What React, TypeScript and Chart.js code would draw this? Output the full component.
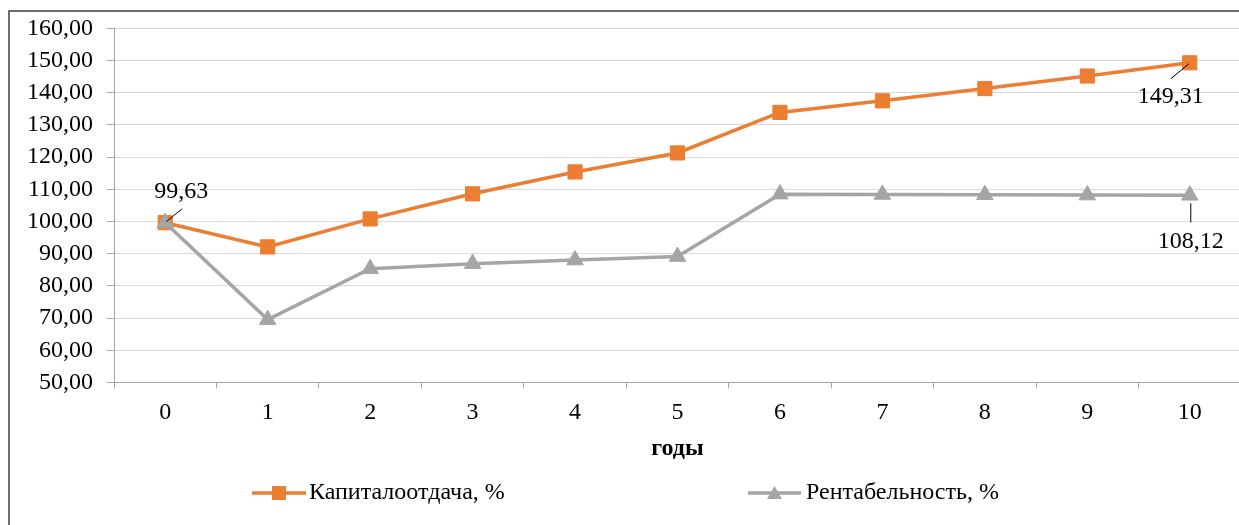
import React, { useEffect, useRef } from 'react';
import { Chart, registerables } from 'chart.js';

Chart.register(...registerables);

const categories: string[] = ['0', '1', '2', '3', '4', '5', '6', '7', '8', '9', '10'];
const capitalProductivity: number[] = [99.63, 92.1, 100.8, 108.6, 115.4, 121.3, 133.9, 137.5, 141.3, 145.2, 149.31];
const profitability: number[] = [99.63, 69.5, 85.3, 86.9, 88.0, 89.1, 108.5, 108.4, 108.3, 108.2, 108.12];
const seriesNames: string[] = ['Капиталоотдача, %', 'Рентабельность, %'];
const seriesColors: string[] = ['#ED7D31', '#A5A5A5'];
const axisTitle = 'годы';
const yMin = 50;
const yMax = 160;
const yStep = 10;

const FONT = "'Liberation Serif', 'Times New Roman', serif";
const FS = 24;
const fmt = (v: number) => v.toFixed(2).replace('.', ',');

// annotated points: dataset index, point index
const annotated = [
  { ds: 0, idx: 0, dx: 16, dy: -31, l: [17, -14, 1, -1] },
  { ds: 0, idx: 10, dx: -19, dy: 34, l: [-19, 16, -1, 1] },
  { ds: 1, idx: 10, dx: 1, dy: 46, l: [1, 8, 1, 27] },
];

const framePlugin = {
  id: 'frame',
  beforeDraw(chart: any) {
    const ctx = chart.ctx;
    ctx.save();
    ctx.fillStyle = '#ffffff';
    ctx.fillRect(0, 0, chart.width, chart.height);
    ctx.strokeStyle = '#404040';
    ctx.lineWidth = 1.5;
    ctx.beginPath();
    ctx.moveTo(9, chart.height + 10);
    ctx.lineTo(9, 11);
    ctx.lineTo(chart.width + 10, 11);
    ctx.stroke();
    ctx.restore();
  },
};

const labelPlugin = {
  id: 'pointLabels',
  afterDatasetsDraw(chart: any) {
    const ctx = chart.ctx;
    ctx.save();
    ctx.font = `${FS}px ${FONT}`;
    ctx.fillStyle = '#000';
    ctx.textAlign = 'center';
    ctx.textBaseline = 'middle';
    ctx.strokeStyle = '#000';
    ctx.lineWidth = 1;
    annotated.forEach((a) => {
      const el = chart.getDatasetMeta(a.ds).data[a.idx];
      const value = chart.data.datasets[a.ds].data[a.idx] as number;
      const x = el.x;
      const y = el.y;
      ctx.beginPath();
      ctx.moveTo(x + a.l[0], y + a.l[1]);
      ctx.lineTo(x + a.l[2], y + a.l[3]);
      ctx.stroke();
      ctx.fillText(fmt(value), x + a.dx, y + a.dy);
    });
    ctx.restore();
  },
};

const legendPlugin = {
  id: 'lineLegend',
  afterDraw(chart: any) {
    const ctx = chart.ctx;
    const y = 493;
    const items = [
      { x0: 252, x1: 306, tx: 309, style: 'rect' },
      { x0: 748, x1: 801, tx: 806, style: 'triangle' },
    ];
    ctx.save();
    items.forEach((it, i) => {
      const color = seriesColors[i];
      ctx.strokeStyle = color;
      ctx.fillStyle = color;
      ctx.lineWidth = 3.5;
      ctx.beginPath();
      ctx.moveTo(it.x0, y);
      ctx.lineTo(it.x1, y);
      ctx.stroke();
      const cx = (it.x0 + it.x1) / 2;
      ctx.beginPath();
      if (it.style === 'rect') {
        ctx.rect(cx - 7, y - 7, 14, 14);
      } else {
        ctx.moveTo(cx, y - 7);
        ctx.lineTo(cx + 7.5, y + 6);
        ctx.lineTo(cx - 7.5, y + 6);
        ctx.closePath();
      }
      ctx.fill();
      ctx.fillStyle = '#000';
      ctx.font = `${FS}px ${FONT}`;
      ctx.textAlign = 'left';
      ctx.textBaseline = 'middle';
      ctx.fillText(seriesNames[i], it.tx, y);
    });
    ctx.restore();
  },
};

export default function App() {
  const ref = useRef<HTMLCanvasElement | null>(null);

  useEffect(() => {
    document.body.style.overflow = 'hidden';
    const canvas = ref.current;
    if (!canvas) return;
    const chart = new Chart(canvas, {
      type: 'line',
      data: {
        labels: categories,
        datasets: [
          {
            label: seriesNames[0],
            data: capitalProductivity,
            borderColor: seriesColors[0],
            backgroundColor: seriesColors[0],
            borderWidth: 3.5,
            pointStyle: 'rect',
            pointRadius: 10,
            pointBorderWidth: 1,
            pointBackgroundColor: seriesColors[0],
            pointBorderColor: seriesColors[0],
            tension: 0,
            order: 1,
          },
          {
            label: seriesNames[1],
            data: profitability,
            borderColor: seriesColors[1],
            backgroundColor: seriesColors[1],
            borderWidth: 3.5,
            pointStyle: 'triangle',
            pointRadius: 9.5,
            pointBorderWidth: 1,
            pointBackgroundColor: seriesColors[1],
            pointBorderColor: seriesColors[1],
            tension: 0,
            order: 0,
          },
        ],
      },
      options: {
        animation: false,
        responsive: false,
        devicePixelRatio: 1,
        events: [],
        layout: { padding: { top: 14, left: 10, right: 0, bottom: 58 } },
        plugins: {
          legend: { display: false },
          tooltip: { enabled: false },
        },
        scales: {
          x: {
            type: 'category',
            offset: true,
            grid: {
              display: true,
              drawOnChartArea: false,
              drawTicks: true,
              tickLength: 6,
              tickColor: '#a6a6a6',
              offset: true,
            },
            border: { display: true, color: '#a6a6a6', width: 1 },
            ticks: {
              color: '#000',
              font: { family: FONT, size: FS },
              padding: 10,
              maxRotation: 0,
              autoSkip: false,
            },
            title: {
              display: true,
              text: axisTitle,
              color: '#000',
              font: { family: FONT, size: 24, weight: 'bold' },
              padding: { top: -3, bottom: 4 },
            },
          },
          y: {
            min: yMin,
            max: yMax,
            ticks: {
              stepSize: yStep,
              color: '#000',
              font: { family: FONT, size: FS },
              padding: 14,
              callback: (v: any) => fmt(Number(v)),
            },
            grid: {
              color: '#d9d9d9',
              lineWidth: 1,
              drawTicks: true,
              tickLength: 7,
              tickColor: '#a6a6a6',
            },
            border: { display: true, color: '#a6a6a6', width: 1 },
            afterFit: (s: any) => {
              s.width = 104;
            },
          },
        },
      },
      plugins: [framePlugin, labelPlugin, legendPlugin],
    } as any);
    return () => chart.destroy();
  }, []);

  return (
    <canvas
      ref={ref}
      width={1252}
      height={525}
      style={{ position: 'fixed', left: 0, top: 0, display: 'block' }}
    />
  );
}
